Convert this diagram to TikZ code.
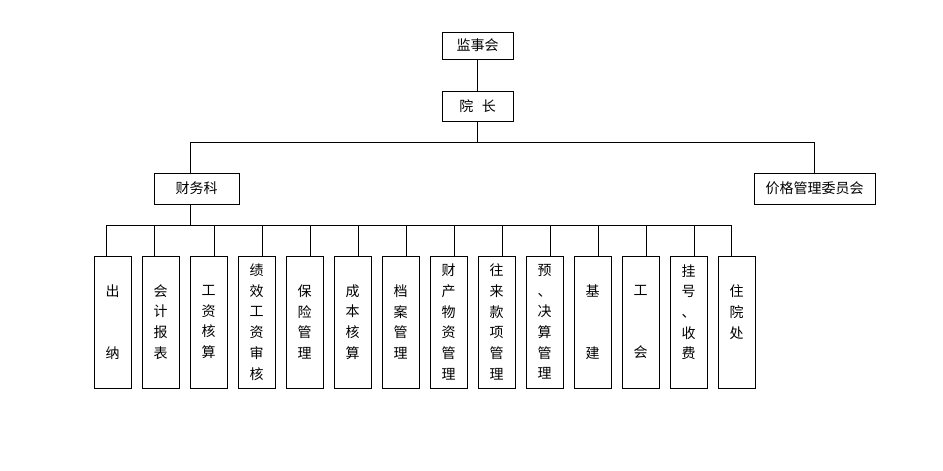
\documentclass[tikz,border=0pt]{standalone}
\usepackage{fontspec}
\newfontfamily\cjk{Noto Sans CJK SC}
\usetikzlibrary{positioning,calc}
\tikzset{
  orgbox/.style={draw, line width=0.9pt, inner sep=0pt, font=\cjk\fontsize{14}{16}\selectfont},
  colbox/.style={draw, line width=0.9pt, inner sep=0pt, minimum width=37pt,
                 minimum height=132pt, align=center, font=\cjk\fontsize{14}{20.7}\selectfont},
  link/.style={line width=0.9pt},
}

\begin{document}
\begin{tikzpicture}[x=1pt, y=-1pt]
 \useasboundingbox (0,0) rectangle (943,471);
 % top of the chart
 \node[orgbox, minimum width=71pt, minimum height=27pt] (jsh) at (477.5,45.5) {监事会};
 \node[orgbox, minimum width=71pt, minimum height=30pt] (yz) at (477.5,106) {院\hspace{8.5pt}长};
 \node[orgbox, minimum width=85pt, minimum height=31pt] (cwk) at (196.5,188.5) {财务科};
 \node[orgbox, minimum width=121pt, minimum height=31pt] (jgw) at (814.5,188.5) {价格管理委员会};
 \coordinate (hub) at (477.5,142);
 \coordinate (lt) at (190,142);
 \coordinate (rt) at (814,142);
 \coordinate (cb) at (190,225);
 \coordinate (ll) at (106,225);
 \coordinate (lr) at (731,225);
 \draw[link] (jsh) -- (yz);
 \draw[link] (yz) -- (hub);
 \draw[link] (cwk.north -| lt) -- (lt) -- (rt) -- (jgw.north -| rt);
 \draw[link] (cwk.south -| cb) -- (cb);
 \draw[link] (ll) -- (lr);
 % the units below the finance office
 \foreach \i/\dx/\txt in {%
   1/-6.5/{出\\~\\~\\纳},
   2/-6.5/{会\\计\\报\\表},
   3/5.5/{工\\资\\核\\算},
   4/5.5/{绩\\效\\工\\资\\审\\核},
   5/5.5/{保\\险\\管\\理},
   6/5.5/{成\\本\\核\\算},
   7/5.5/{档\\案\\管\\理},
   8/5.5/{财\\产\\物\\资\\管\\理},
   9/5.5/{往\\来\\款\\项\\管\\理},
   10/5.5/{预\\、\\决\\算\\管\\理},
   11/5.5/{基\\~\\~\\建},
   12/5.5/{工\\~\\~\\会},
   13/5.5/{挂\\号\\、\\收\\费\\~},
   14/-5.5/{住\\院\\处\\~}}
 {
  \node[colbox] (u\i) at ({112.5+48*(\i-1)},322) {\txt};
  \coordinate (t\i) at ({112.5+48*(\i-1)+\dx},225);
  \draw[link] (t\i) -- (t\i |- u\i.north);
 }
\end{tikzpicture}
\end{document}
